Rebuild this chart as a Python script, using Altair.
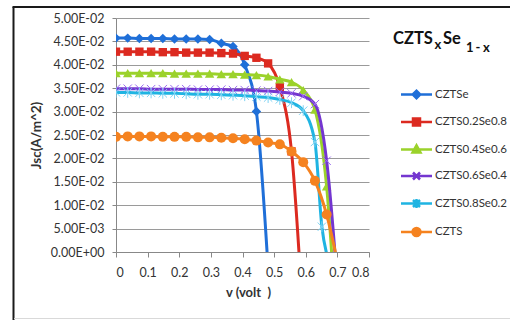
import altair as alt
import pandas as pd

series_names = ["CZTSe", "CZTS0.2Se0.8", "CZTS0.4Se0.6", "CZTS0.6Se0.4", "CZTS0.8Se0.2", "CZTS"]
line_colors = ["#1f6fd8", "#dc2a20", "#9bd22b", "#7436d0", "#1fb4e2", "#f5821f"]
marker_colors = ["#1f6fd8", "#dc2a20", "#9bd22b", "#9a6cf0", "#7fd3f3", "#f5821f"]

v_std = [0, 0.037, 0.074, 0.111, 0.148, 0.185, 0.222, 0.259, 0.296, 0.333,
         0.370, 0.407, 0.444, 0.481, 0.518, 0.555, 0.592, 0.629, 0.666, 0.703]

v_czts_se = v_std[:14]
j_czts_se = [0.0457, 0.0457, 0.0456, 0.0456, 0.0456, 0.0455, 0.0455, 0.0455, 0.0454, 0.0446,
             0.0439, 0.0400, 0.0300, -0.0036]

v_s02 = v_std[:17]
j_s02 = [0.0428, 0.0428, 0.0428, 0.0428, 0.0427, 0.0427, 0.0426, 0.0426, 0.0426, 0.0425,
         0.0424, 0.0419, 0.0415, 0.0403, 0.0352, 0.0215, -0.0147]

v_s04 = v_std[:20]
j_s04 = [0.0382, 0.0382, 0.0382, 0.0382, 0.0382, 0.0381, 0.0381, 0.0381, 0.0381, 0.0380,
         0.0380, 0.0379, 0.0378, 0.0375, 0.0369, 0.0363, 0.0346, 0.0304, 0.0140, -0.0230]

v_s06 = v_std[:20]
j_s06 = [0.0349, 0.0349, 0.0349, 0.0348, 0.0348, 0.0348, 0.0348, 0.0347, 0.0347, 0.0347,
         0.0346, 0.0346, 0.0345, 0.0344, 0.0342, 0.0339, 0.0333, 0.0316, 0.0195, -0.0094]

v_s08 = v_std[:18] + [0.651, 0.673]
j_s08 = [0.0341, 0.0341, 0.0340, 0.0340, 0.0339, 0.0339, 0.0338, 0.0337, 0.0337, 0.0336,
         0.0335, 0.0334, 0.0332, 0.0330, 0.0326, 0.0319, 0.0302, 0.0235, 0.0054, -0.0020]

v_czts = v_std[:20]
j_czts = [0.0246, 0.0247, 0.0247, 0.0247, 0.0246, 0.0246, 0.0246, 0.0245, 0.0245, 0.0244,
          0.0243, 0.0241, 0.0238, 0.0234, 0.0230, 0.0215, 0.0192, 0.0152, 0.0080, -0.0030]

x_ticks = [0, 0.1, 0.2, 0.3, 0.4, 0.5, 0.6, 0.7, 0.8]
y_ticks = [0, 0.005, 0.01, 0.015, 0.02, 0.025, 0.03, 0.035, 0.04, 0.045, 0.05]

all_v = [v_czts_se, v_s02, v_s04, v_s06, v_s08, v_czts]
all_j = [j_czts_se, j_s02, j_s04, j_s06, j_s08, j_czts]
rows = []
for name, vs, js in zip(series_names, all_v, all_j):
    for v, j in zip(vs, js):
        rows.append({"series": name, "v": v, "j": j})
df = pd.DataFrame(rows)

FONT = "Lato"
TXT = "#333333"

X = alt.X("v:Q", scale=alt.Scale(domain=[0, 0.8], nice=False, zero=False),
          axis=alt.Axis(values=x_ticks, labelExpr="datum.value == 0 ? '0' : format(datum.value, '.1f')",
                        grid=False, tickSize=5, tickColor="#888888", domainColor="#888888",
                        labelPadding=9, labelFontSize=12.5, labelFont=FONT, labelColor=TXT,
                        title="v (volt\u00a0\u00a0)", titleFont=FONT, titleFontSize=13,
                        titleFontWeight="bold", titleColor=TXT, titleX=132, titleY=34,
                        titleBaseline="top"))
Y = alt.Y("j:Q", scale=alt.Scale(domain=[0, 0.05], nice=False, zero=False),
          axis=alt.Axis(values=y_ticks,
                        labelExpr="datum.value == 0 ? '0.00E+00' : (datum.value < 0.0099 ? format(datum.value*1000, '.2f') + 'E-03' : format(datum.value*100, '.2f') + 'E-02')",
                        grid=True, gridColor="#9a9a9a", gridWidth=1, tickSize=4,
                        tickColor="#888888", domainColor="#888888", labelPadding=8,
                        labelFontSize=12.5, labelFont=FONT, labelColor=TXT,
                        title="Jsc(A/m^2)", titleFont=FONT, titleFontSize=13.5,
                        titleFontWeight="bold", titleColor=TXT, titleX=-73, titleY=117,
                        titleAngle=270, titleAlign="center", titleBaseline="bottom"))

marker_shapes = ["diamond", "square", "triangle-up",
                 "M-1,-1L1,1M-1,1L1,-1",
                 "M-1,-1L1,1M-1,1L1,-1M0,-1.3L0,1.3",
                 "circle"]
marker_sizes = [90, 70, 90, 70, 70, 100]
marker_filled = [True, True, True, False, False, True]

layers = []
for i, name in enumerate(series_names):
    base = alt.Chart(df).transform_filter(alt.datum.series == name)
    layers.append(base.mark_line(interpolate="monotone", strokeWidth=3, color=line_colors[i],
                                 clip=True).encode(x=X, y=Y))
    layers.append(base.mark_point(shape=marker_shapes[i], size=marker_sizes[i],
                                  filled=marker_filled[i], color=marker_colors[i], opacity=1,
                                  strokeWidth=1, clip=True).encode(x=X, y=Y))

L = "M-3.1,0H3.1"
legend_paths = [
    L + "M-0.75,0L0,-0.75L0.75,0L0,0.75Z",
    L + "M-0.7,-0.7H0.7V0.7H-0.7Z",
    L + "M0,-0.85L0.8,0.6H-0.8Z",
    L + "M-0.7,-0.7L0.7,0.7M-0.7,0.7L0.7,-0.7",
    L + "M-0.7,-0.7L0.7,0.7M-0.7,0.7L0.7,-0.7M0,-0.9V0.9",
    L + "M-0.8,0A0.8,0.8,0,1,0,0.8,0A0.8,0.8,0,1,0,-0.8,0Z",
]
leg = alt.Legend(title=None, orient="none", legendX=294, legendY=70, padding=0,
                 symbolSize=100, symbolStrokeWidth=2.5, labelFont=FONT, labelFontSize=11.5,
                 labelColor=TXT, labelOffset=12, symbolOffset=0, rowPadding=9.5,
                 symbolOpacity=1)
legend_layer = alt.Chart(df).transform_filter("false").mark_point(
    opacity=1, strokeWidth=2.5, filled=True).encode(
    x=X, y=Y,
    fill=alt.Fill("series:N", scale=alt.Scale(domain=series_names, range=line_colors), legend=leg),
    stroke=alt.Stroke("series:N", scale=alt.Scale(domain=series_names, range=line_colors), legend=leg),
    shape=alt.Shape("series:N", scale=alt.Scale(domain=series_names, range=legend_paths), legend=leg),
)
layers.append(legend_layer)

one = alt.Data(values=[{}])

def txt(t, x, y, size):
    return alt.Chart(one).mark_text(text=t, font=FONT, fontSize=size, fontWeight="bold",
                                    color="#111111", align="left", baseline="alphabetic").encode(
        x=alt.value(x), y=alt.value(y))

layers += [txt("CZTS", 277, 25.5, 16.5), txt("x", 318.5, 30.5, 13), txt("Se", 327, 25.5, 16.5),
           txt("1", 350, 33.5, 13), txt("-", 359.5, 33.5, 13), txt("x", 367, 33.5, 13)]

def rule(x, x2, y, y2, color, w):
    return alt.Chart(one).mark_rule(color=color, strokeWidth=w).encode(
        x=alt.value(x), x2=alt.value(x2), y=alt.value(y), y2=alt.value(y2))

layers += [rule(-102.5, -102.5, -11, 302, "#1a1a1a", 2),
           rule(-103.5, 394, -11, -11, "#1a1a1a", 2),
           rule(-102, 394, 300.5, 300.5, "#d9d9d9", 1)]

chart = alt.layer(*layers).properties(
    width=253, height=234,
    autosize=alt.AutoSizeParams(type="none"),
    padding={"left": 116, "top": 18, "right": 141, "bottom": 68},
    background="white",
).configure_view(strokeWidth=0)

chart.save("out.html", embed_options={"renderer": "svg", "actions": False})
